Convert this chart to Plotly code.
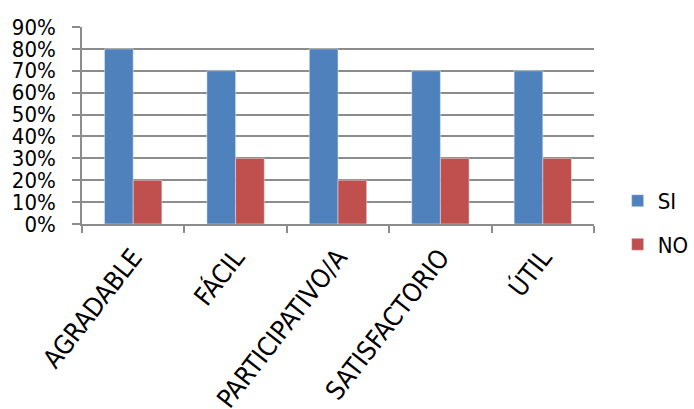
import plotly.graph_objects as go

categories = ["AGRADABLE", "FÁCIL", "PARTICIPATIVO/A", "SATISFACTORIO", "ÚTIL"]
si_values = [0.80, 0.70, 0.80, 0.70, 0.70]
no_values = [0.20, 0.30, 0.20, 0.30, 0.30]
y_ticks = [0, 0.1, 0.2, 0.3, 0.4, 0.5, 0.6, 0.7, 0.8, 0.9]
y_tick_labels = ["0%", "10%", "20%", "30%", "40%", "50%", "60%", "70%", "80%", "90%"]

FONT = "Liberation Sans Narrow, DejaVu Sans Condensed, Arial, sans-serif"
GRID = "#8c8c8c"

fig = go.Figure()
fig.add_trace(go.Bar(x=categories, y=si_values, name="SI", marker_color="#4F81BD",
                     legendgroup="si"))
fig.add_trace(go.Bar(x=categories, y=no_values, name="NO", marker_color="#C0504D",
                     legendgroup="no"))

fig.update_layout(
    width=694, height=409,
    margin=dict(l=82, r=100, t=27, b=185, autoexpand=False),
    paper_bgcolor="white", plot_bgcolor="white",
    barmode="group", bargap=0.44, bargroupgap=0,
    font=dict(family=FONT, color="black"),
    showlegend=True,
    legend=dict(xref="container", yref="container", x=0.89, y=0.455,
                yanchor="middle", xanchor="left",
                font=dict(size=22, family=FONT), tracegroupgap=12,
                itemwidth=30, bgcolor="rgba(0,0,0,0)"),
)
fig.update_xaxes(
    showline=True, linecolor=GRID, linewidth=1.5,
    ticks="outside", tickson="boundaries", ticklen=7, tickcolor=GRID, tickwidth=1.5,
    tickangle=-52, tickfont=dict(size=26, family=FONT), ticklabelstandoff=6,
    showgrid=False,
)
fig.update_yaxes(
    range=[0, 0.9], tickvals=y_ticks, ticktext=y_tick_labels,
    showline=True, linecolor=GRID, linewidth=1.5,
    ticks="outside", ticklen=8, tickcolor=GRID, tickwidth=1.5,
    showgrid=True, gridcolor=GRID, gridwidth=1.5,
    tickfont=dict(size=22, family=FONT), ticklabelstandoff=12,
    zeroline=False,
)

fig.write_html("out.html")
